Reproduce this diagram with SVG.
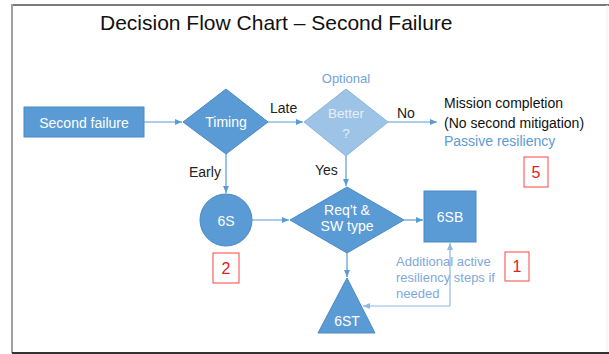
<svg xmlns="http://www.w3.org/2000/svg" width="609" height="354" viewBox="0 0 609 354">
<defs>
<style>
text{font-family:"Liberation Sans",Arial,sans-serif}
.shape{fill:#5b9bd5;stroke:#4a8ac4;stroke-width:1}
.light{fill:#9dc3e6;stroke:#8cb6dc;stroke-width:1}
.wt{fill:#ffffff;font-size:14px;text-anchor:middle}
.lbl{fill:#222;font-size:14px}
.conn{stroke:#5b9bd5;stroke-width:1.2;fill:none}
.connl{stroke:#8fb8e4;stroke-width:1.2;fill:none}
.rbox{fill:#fff;stroke:#f44;stroke-width:1}
.rt{fill:#e02020;font-size:16px;text-anchor:middle}
</style>
<marker id="ah" markerWidth="8" markerHeight="8" refX="7" refY="4" orient="auto" markerUnits="userSpaceOnUse">
<path d="M0,1 L7,4 L0,7 z" fill="#5b9bd5"/>
</marker>
<marker id="ahl" markerWidth="8" markerHeight="8" refX="7" refY="4" orient="auto" markerUnits="userSpaceOnUse">
<path d="M0,1 L7,4 L0,7 z" fill="#8fb8e4"/>
</marker>
</defs>
<rect x="0" y="0" width="609" height="354" fill="#ffffff"/>
<g id="frame">
<line x1="12" y1="5" x2="609" y2="5" stroke="#7a7a7a" stroke-width="2"/>
<line x1="12" y1="4" x2="12" y2="353" stroke="#a0a0a0" stroke-width="2"/>
<line x1="12" y1="353" x2="609" y2="353" stroke="#333" stroke-width="2"/>
<line x1="607" y1="5" x2="607" y2="352" stroke="#eeeeee" stroke-width="1"/>
</g>
<text id="title" x="100" y="30" font-size="21" fill="#111">Decision Flow Chart – Second Failure</text>

<g id="connectors">
<line class="conn" x1="144" y1="122" x2="182" y2="122" marker-end="url(#ah)"/>
<line class="conn" x1="268" y1="122" x2="303" y2="122" marker-end="url(#ah)"/>
<line class="conn" x1="388" y1="122" x2="437" y2="122" marker-end="url(#ah)"/>
<line class="conn" x1="226" y1="154" x2="226" y2="193" marker-end="url(#ah)"/>
<line class="conn" x1="346" y1="156" x2="346" y2="186" marker-end="url(#ah)"/>
<line class="conn" x1="252" y1="220" x2="289" y2="220" marker-end="url(#ah)"/>
<line class="conn" x1="404" y1="220" x2="423" y2="220" marker-end="url(#ah)"/>
<line class="conn" x1="347" y1="253" x2="347" y2="277" marker-end="url(#ah)"/>
<polyline class="connl" points="450,306 363,306" marker-end="url(#ahl)"/>
<polyline class="connl" points="450,306 450,243" marker-end="url(#ahl)"/>
<text x="270" y="113" class="lbl">Late</text>
<text x="397" y="118" class="lbl">No</text>
<text x="189" y="177" class="lbl">Early</text>
<text x="315" y="175" class="lbl">Yes</text>
<text x="396" y="266" font-size="13" fill="#7ea9dc">Additional active</text>
<text x="396" y="282" font-size="13" fill="#7ea9dc">resiliency steps if</text>
<text x="396" y="298" font-size="13" fill="#7ea9dc">needed</text>
</g>

<g id="second-failure">
<rect class="shape" x="24" y="107" width="120" height="30"/>
<text class="wt" x="84" y="128" font-size="16">Second failure</text>
</g>
<g id="timing">
<polygon class="shape" points="226,89 268,122 226,154 183,122"/>
<text class="wt" x="226" y="127">Timing</text>
</g>
<g id="better">
<text x="346" y="83" font-size="13" fill="#6fa3db" text-anchor="middle">Optional</text>
<polygon class="light" points="346,89 388,122 346,156 304,122"/>
<text x="346" y="118" font-size="13.5" fill="#e6f0fa" text-anchor="middle">Better</text>
<text x="346" y="138" font-size="13.5" fill="#e6f0fa" text-anchor="middle">?</text>
</g>
<g id="mission">
<text x="444" y="108" font-size="14" fill="#111">Mission completion</text>
<text x="444" y="128" font-size="14" fill="#111">(No second mitigation)</text>
<text x="444" y="146" font-size="14" fill="#5b9bd5">Passive resiliency</text>
</g>
<g id="box5">
<rect class="rbox" x="524" y="157" width="24" height="30"/>
<text class="rt" x="536" y="178">5</text>
</g>
<g id="n6s">
<circle class="shape" cx="226" cy="220" r="26"/>
<text class="wt" x="226" y="226" font-size="15">6S</text>
</g>
<g id="box2">
<rect class="rbox" x="213" y="253" width="26" height="30"/>
<text class="rt" x="226" y="274">2</text>
</g>
<g id="reqt">
<polygon class="shape" points="347,187 404,220 347,253 290,220"/>
<text class="wt" x="347" y="215" font-size="13">Req’t &amp;</text>
<text class="wt" x="347" y="231" font-size="13">SW type</text>
</g>
<g id="n6sb">
<rect class="shape" x="424" y="191" width="52" height="51"/>
<text class="wt" x="450" y="222" font-size="15">6SB</text>
</g>
<g id="box1">
<rect class="rbox" x="505" y="252" width="24" height="29"/>
<text class="rt" x="517" y="272">1</text>
</g>
<g id="n6st">
<polygon class="shape" points="347,278 375,333 318,333"/>
<text class="wt" x="347" y="326" font-size="15">6ST</text>
</g>
</svg>
